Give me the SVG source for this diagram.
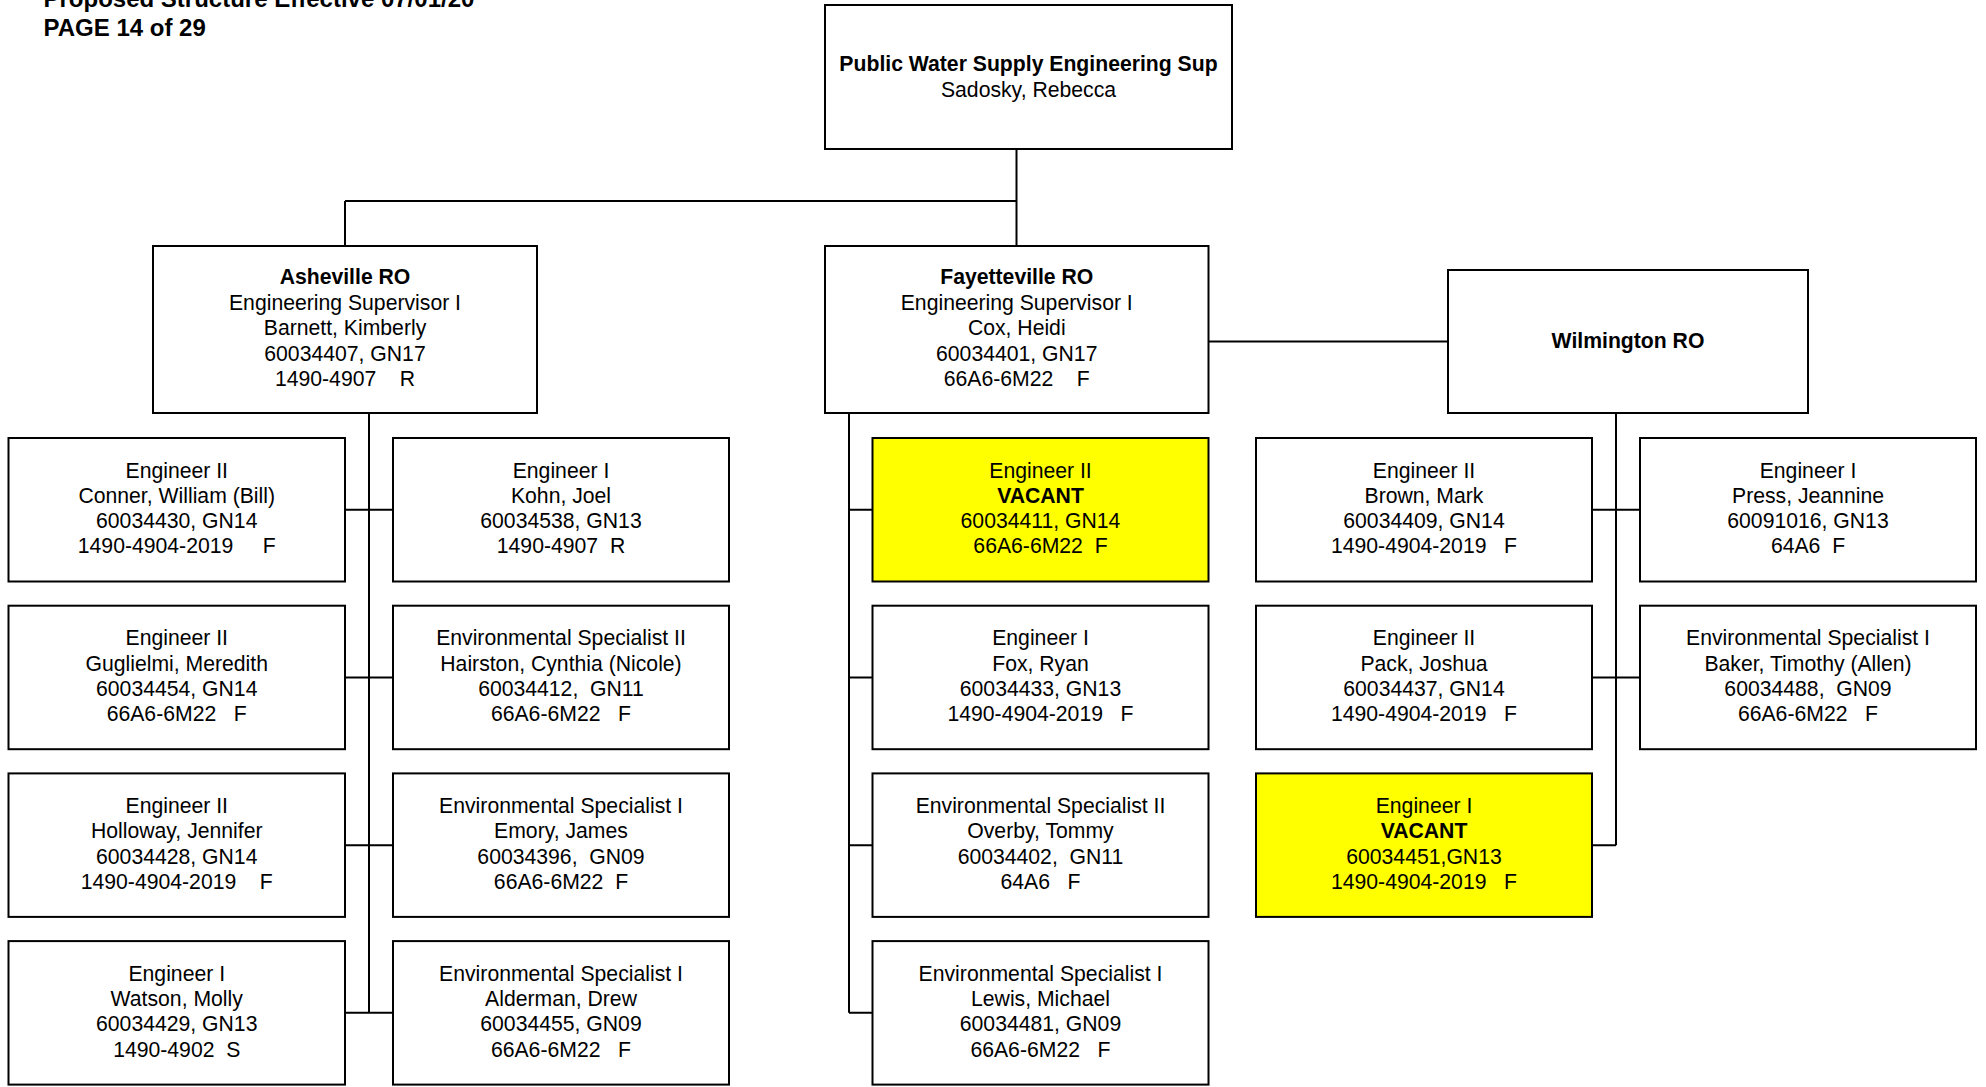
<svg xmlns="http://www.w3.org/2000/svg" width="1986" height="1087" viewBox="0 0 1986 1087">
<style>
.box{fill:#fff;stroke:#000;stroke-width:2}
.vac{fill:#ffff00;stroke:#000;stroke-width:2}
.conn path{fill:none;stroke:#000;stroke-width:2}
text{font-family:"Liberation Sans",Arial,sans-serif;font-size:21.2px;fill:#000;text-anchor:middle;white-space:pre}
.b{font-weight:bold}
.hdr{font-size:24px;font-weight:bold;text-anchor:start}
</style>
<rect width="1986" height="1087" fill="#fff"/>
<g id="header">
<text class="hdr" x="43.5" y="7">Proposed Structure Effective 07/01/20</text>
<text class="hdr" x="43.5" y="36">PAGE 14 of 29</text>
</g>
<g class="conn" id="connectors">
<path d="M1016.5 149V246"/>
<path d="M345 201H1016.5"/>
<path d="M345 201V246"/>
<path d="M369 413V1012.85M345 509.75H393M345 677.45H393M345 845.15H393M345 1012.85H393"/>
<path d="M849 413V1012.85M849 509.75H872.5M849 677.45H872.5M849 845.15H872.5M849 1012.85H872.5"/>
<path d="M1208.5 341.5H1448"/>
<path d="M1616 413V845.15M1592 509.75H1640M1592 677.45H1640M1592 845.15H1616"/>
</g>
<g id="n_top">
<rect class="box" x="825" y="5" width="407" height="144"/>
<text x="1028.5" y="71"><tspan class="b">Public Water Supply Engineering Sup</tspan><tspan x="1028.5" y="96.5">Sadosky, Rebecca</tspan></text>
</g>
<g id="n_asheville">
<rect class="box" x="153" y="246" width="384" height="167"/>
<text x="345" y="284"><tspan class="b">Asheville RO</tspan><tspan x="345" y="309.5">Engineering Supervisor I</tspan><tspan x="345" y="335">Barnett, Kimberly</tspan><tspan x="345" y="360.5">60034407, GN17</tspan><tspan x="345" y="386">1490-4907    R</tspan></text>
</g>
<g id="n_fayetteville">
<rect class="box" x="825" y="246" width="383.5" height="167"/>
<text x="1016.75" y="284"><tspan class="b">Fayetteville RO</tspan><tspan x="1016.75" y="309.5">Engineering Supervisor I</tspan><tspan x="1016.75" y="335">Cox, Heidi</tspan><tspan x="1016.75" y="360.5">60034401, GN17</tspan><tspan x="1016.75" y="386">66A6-6M22    F</tspan></text>
</g>
<g id="n_wilmington">
<rect class="box" x="1448" y="270" width="360" height="143"/>
<text class="b" x="1628" y="348">Wilmington RO</text>
</g>
<!-- Column A -->
<g id="n_conner">
<rect class="box" x="8.5" y="438" width="336.5" height="143.5"/>
<text x="176.75" y="477.5">Engineer II<tspan x="176.75" y="502.8">Conner, William (Bill)</tspan><tspan x="176.75" y="528.1">60034430, GN14</tspan><tspan x="176.75" y="553.4">1490-4904-2019     F</tspan></text>
</g>
<g id="n_guglielmi">
<rect class="box" x="8.5" y="605.7" width="336.5" height="143.5"/>
<text x="176.75" y="645.2">Engineer II<tspan x="176.75" y="670.5">Guglielmi, Meredith</tspan><tspan x="176.75" y="695.8">60034454, GN14</tspan><tspan x="176.75" y="721.1">66A6-6M22   F</tspan></text>
</g>
<g id="n_holloway">
<rect class="box" x="8.5" y="773.4" width="336.5" height="143.5"/>
<text x="176.75" y="812.9">Engineer II<tspan x="176.75" y="838.2">Holloway, Jennifer</tspan><tspan x="176.75" y="863.5">60034428, GN14</tspan><tspan x="176.75" y="888.8">1490-4904-2019    F</tspan></text>
</g>
<g id="n_watson">
<rect class="box" x="8.5" y="941.1" width="336.5" height="143.5"/>
<text x="176.75" y="980.6">Engineer I<tspan x="176.75" y="1005.9">Watson, Molly</tspan><tspan x="176.75" y="1031.2">60034429, GN13</tspan><tspan x="176.75" y="1056.5">1490-4902  S</tspan></text>
</g>
<!-- Column B -->
<g id="n_kohn">
<rect class="box" x="393" y="438" width="336" height="143.5"/>
<text x="561" y="477.5">Engineer I<tspan x="561" y="502.8">Kohn, Joel</tspan><tspan x="561" y="528.1">60034538, GN13</tspan><tspan x="561" y="553.4">1490-4907  R</tspan></text>
</g>
<g id="n_hairston">
<rect class="box" x="393" y="605.7" width="336" height="143.5"/>
<text x="561" y="645.2">Environmental Specialist II<tspan x="561" y="670.5">Hairston, Cynthia (Nicole)</tspan><tspan x="561" y="695.8">60034412,  GN11</tspan><tspan x="561" y="721.1">66A6-6M22   F</tspan></text>
</g>
<g id="n_emory">
<rect class="box" x="393" y="773.4" width="336" height="143.5"/>
<text x="561" y="812.9">Environmental Specialist I<tspan x="561" y="838.2">Emory, James</tspan><tspan x="561" y="863.5">60034396,  GN09</tspan><tspan x="561" y="888.8">66A6-6M22  F</tspan></text>
</g>
<g id="n_alderman">
<rect class="box" x="393" y="941.1" width="336" height="143.5"/>
<text x="561" y="980.6">Environmental Specialist I<tspan x="561" y="1005.9">Alderman, Drew</tspan><tspan x="561" y="1031.2">60034455, GN09</tspan><tspan x="561" y="1056.5">66A6-6M22   F</tspan></text>
</g>
<!-- Column C -->
<g id="n_vacant_eng2">
<rect class="vac" x="872.5" y="438" width="336" height="143.5"/>
<text x="1040.5" y="477.5">Engineer II<tspan class="b" x="1040.5" y="502.8">VACANT</tspan><tspan x="1040.5" y="528.1">60034411, GN14</tspan><tspan x="1040.5" y="553.4">66A6-6M22  F</tspan></text>
</g>
<g id="n_fox">
<rect class="box" x="872.5" y="605.7" width="336" height="143.5"/>
<text x="1040.5" y="645.2">Engineer I<tspan x="1040.5" y="670.5">Fox, Ryan</tspan><tspan x="1040.5" y="695.8">60034433, GN13</tspan><tspan x="1040.5" y="721.1">1490-4904-2019   F</tspan></text>
</g>
<g id="n_overby">
<rect class="box" x="872.5" y="773.4" width="336" height="143.5"/>
<text x="1040.5" y="812.9">Environmental Specialist II<tspan x="1040.5" y="838.2">Overby, Tommy</tspan><tspan x="1040.5" y="863.5">60034402,  GN11</tspan><tspan x="1040.5" y="888.8">64A6   F</tspan></text>
</g>
<g id="n_lewis">
<rect class="box" x="872.5" y="941.1" width="336" height="143.5"/>
<text x="1040.5" y="980.6">Environmental Specialist I<tspan x="1040.5" y="1005.9">Lewis, Michael</tspan><tspan x="1040.5" y="1031.2">60034481, GN09</tspan><tspan x="1040.5" y="1056.5">66A6-6M22   F</tspan></text>
</g>
<!-- Column D -->
<g id="n_brown">
<rect class="box" x="1256" y="438" width="336" height="143.5"/>
<text x="1424" y="477.5">Engineer II<tspan x="1424" y="502.8">Brown, Mark</tspan><tspan x="1424" y="528.1">60034409, GN14</tspan><tspan x="1424" y="553.4">1490-4904-2019   F</tspan></text>
</g>
<g id="n_pack">
<rect class="box" x="1256" y="605.7" width="336" height="143.5"/>
<text x="1424" y="645.2">Engineer II<tspan x="1424" y="670.5">Pack, Joshua</tspan><tspan x="1424" y="695.8">60034437, GN14</tspan><tspan x="1424" y="721.1">1490-4904-2019   F</tspan></text>
</g>
<g id="n_vacant_eng1">
<rect class="vac" x="1256" y="773.4" width="336" height="143.5"/>
<text x="1424" y="812.9">Engineer I<tspan class="b" x="1424" y="838.2">VACANT</tspan><tspan x="1424" y="863.5">60034451,GN13</tspan><tspan x="1424" y="888.8">1490-4904-2019   F</tspan></text>
</g>
<!-- Column E -->
<g id="n_press">
<rect class="box" x="1640" y="438" width="336" height="143.5"/>
<text x="1808" y="477.5">Engineer I<tspan x="1808" y="502.8">Press, Jeannine</tspan><tspan x="1808" y="528.1">60091016, GN13</tspan><tspan x="1808" y="553.4">64A6  F</tspan></text>
</g>
<g id="n_baker">
<rect class="box" x="1640" y="605.7" width="336" height="143.5"/>
<text x="1808" y="645.2">Environmental Specialist I<tspan x="1808" y="670.5">Baker, Timothy (Allen)</tspan><tspan x="1808" y="695.8">60034488,  GN09</tspan><tspan x="1808" y="721.1">66A6-6M22   F</tspan></text>
</g>
</svg>
